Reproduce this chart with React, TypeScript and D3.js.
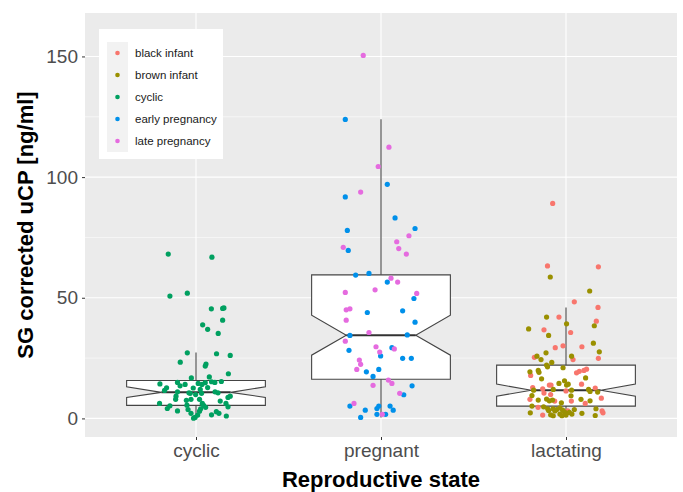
import React, { useEffect, useRef } from "react";
import * as d3 from "d3";

// categories on the x axis
const states = ["cyclic", "pregnant", "lactating"];
const yTicks = [0, 50, 100, 150];
const yMinor = [25, 75, 125];

// box stats: [lower, q1, median, q3, upper, notchLo, notchHi]
const boxStats: number[][] = [
  [0.1, 5.4, 10.8, 15.7, 27.3, 8.7, 13.1],
  [0.4, 16.2, 34.5, 59.5, 124, 26.2, 42.8],
  [1.0, 5.1, 11.7, 22.1, 46, 9.2, 14.2],
];

// points: [jitter (category units), value]
const cyclicPts: [number, number][] = [
  [-0.15, 68.1], [0.086, 66.8], [-0.141, 50.7], [-0.047, 51.9], [0.083, 45.4], [0.144, 45.6],
  [0.151, 45.8], [0.144, 40.7], [0.036, 38.8], [0.063, 36.9], [0.12, 35.2], [-0.047, 27.2],
  [0.111, 26.8], [0.185, 26.1], [-0.085, 23.3], [0.054, 22.5], [0.05, 21.7], [0.175, 18.5],
  [-0.025, 16.8], [0.072, 17.2], [0.084, 15.2], [0.102, 14.9], [0.137, 15.3], [-0.1, 14.9],
  [-0.195, 14.3], [-0.086, 13.5], [-0.059, 14.1], [0.012, 14.5], [0.032, 14.1], [0.05, 14.8],
  [-0.159, 12.7], [-0.17, 11.6], [-0.015, 12.6], [0.023, 12.0], [0.063, 12.8], [-0.1, 11.0],
  [-0.038, 10.6], [-0.031, 10.4], [0.103, 11.0], [0.119, 10.6], [-0.002, 9.9], [0.03, 10.4],
  [0.173, 8.7], [0.185, 9.2], [-0.11, 7.9], [-0.052, 7.5], [-0.027, 7.9], [0.019, 7.9],
  [0.131, 7.2], [-0.197, 6.2], [-0.141, 5.2], [-0.155, 4.1], [-0.049, 5.5], [0.034, 6.2],
  [0.041, 5.4], [0.162, 6.2], [0.173, 4.8], [-0.1, 3.1], [-0.043, 3.7], [-0.027, 2.1],
  [0.025, 4.0], [0.019, 3.0], [0.084, 1.5], [0.11, 2.8], [0.124, 2.1], [0.164, 1.0],
  [-0.005, 0.4], [-0.013, 0.1], [0.009, 1.4], [0.052, 4.6], [-0.108, 9.2],
];

const earlyPts: [number, number][] = [
  [-0.193, 123.9], [0.034, 97.0], [-0.193, 91.8], [0.076, 83.1], [0.184, 78.7], [-0.182, 77.9],
  [-0.177, 69.6], [-0.137, 59.4], [-0.065, 60.1], [0.034, 56.5], [0.178, 49.7], [-0.074, 43.9],
  [0.117, 44.6], [0.184, 39.9], [-0.168, 34.4], [0.142, 34.6], [-0.173, 28.2], [0.059, 29.3],
  [-0.002, 25.9], [0.117, 24.9], [0.164, 24.9], [-0.079, 19.3], [-0.012, 20.3], [-0.043, 17.4],
  [0.168, 13.5], [0.123, 9.8], [-0.168, 5.1], [-0.085, 3.4], [-0.022, 4.1], [-0.012, 5.1],
  [0.049, 5.1], [0.066, 3.4], [-0.11, 0.4], [-0.022, 1.7], [0.025, 1.7],
];

const latePts: [number, number][] = [
  [-0.096, 150.4], [0.043, 112.4], [-0.015, 104.4], [-0.11, 93.8], [0.151, 75.7], [0.085, 73.2],
  [-0.204, 70.9], [0.096, 70.4], [0.137, 68.1], [0.054, 58.1], [0.09, 56.5], [-0.193, 52.2],
  [-0.032, 53.3], [0.193, 51.8], [-0.188, 45.0], [-0.168, 45.4], [-0.188, 40.7], [-0.065, 35.6],
  [-0.193, 32.0], [-0.027, 29.7], [-0.007, 27.5], [0.072, 28.8], [-0.117, 24.2], [-0.11, 22.4],
  [-0.131, 20.3], [0.04, 15.9], [0.059, 14.5], [-0.043, 13.7], [0.101, 10.4], [-0.146, 6.2],
  [0.007, 1.7],
];

const blackPts: [number, number][] = [
  [-0.072, 89.1], [-0.1, 63.2], [0.175, 62.8], [0.045, 48.3], [0.173, 46.0], [-0.038, 42.0],
  [0.164, 40.3], [-0.119, 36.7], [0.025, 35.6], [-0.016, 30.1], [-0.058, 29.3], [0.086, 29.7],
  [-0.171, 25.3], [0.038, 24.4], [0.175, 24.9], [-0.191, 17.8], [0.057, 18.9], [0.072, 19.5],
  [0.111, 20.4], [0.097, 19.9], [-0.081, 13.8], [-0.09, 13.8], [0.084, 14.2], [-0.18, 12.8],
  [-0.126, 12.3], [-0.119, 10.5], [0, 11.4], [0.158, 12.6], [-0.083, 9.9], [0.191, 8.4],
  [-0.195, 7.9], [-0.061, 7.2], [0.104, 6.2], [0.029, 7.2], [-0.151, 4.6], [0.009, 3.1],
  [0.195, 3.1], [-0.126, 1.4], [0.2, 2.3],
];

const brownPts: [number, number][] = [
  [-0.085, 58.6], [0.128, 52.8], [-0.105, 42.0], [0.003, 39.2], [0.153, 38.4], [-0.202, 37.1],
  [-0.094, 34.4], [0.148, 31.2], [0.18, 27.6], [-0.108, 27.2], [-0.157, 25.8], [-0.135, 24.4],
  [0.03, 25.8], [-0.077, 23.2], [-0.105, 22.1], [-0.1, 21.4], [-0.016, 21.0], [-0.195, 19.3],
  [-0.15, 19.9], [-0.146, 19.1], [0.106, 16.8], [-0.132, 16.4], [-0.038, 14.5], [-0.008, 15.6],
  [0.003, 13.8], [0.012, 14.2], [-0.175, 11.7], [-0.069, 12.0], [0.03, 11.7], [0.122, 12.0],
  [0.13, 11.2], [0.171, 10.9], [0.027, 9.4], [-0.184, 9.5], [-0.15, 7.6], [-0.105, 8.0],
  [-0.09, 7.3], [-0.073, 7.6], [0.081, 7.9], [0.13, 7.3], [-0.025, 6.5], [-0.184, 5.1],
  [-0.121, 4.8], [-0.099, 4.0], [-0.094, 3.3], [-0.07, 4.0], [-0.06, 3.1], [-0.05, 3.7],
  [-0.033, 4.4], [-0.018, 3.4], [-0.007, 2.6], [0.018, 2.5], [0.032, 1.8], [0.045, 3.7],
  [0.086, 2.1], [0.162, 4.0], [0.158, 1.2], [-0.193, 2.3], [-0.083, 1.5], [-0.069, 1.1],
  [-0.033, 1.8], [-0.022, 1.1], [0, 1.4],
];

// legend groups
const groupNames = ["black infant", "brown infant", "cyclic", "early pregnancy", "late pregnancy"];
const groupColors = ["#F8766D", "#9A9000", "#00A060", "#0090EA", "#E56BDF"];
const groupState = ["lactating", "lactating", "cyclic", "pregnant", "pregnant"];
const groupPts = [blackPts, brownPts, cyclicPts, earlyPts, latePts];

const W = 683;
const H = 492;
const margin = { top: 13, right: 6, bottom: 55, left: 85 };
const font = "'Liberation Sans', Arial, sans-serif";

export default function App() {
  const ref = useRef<SVGSVGElement>(null);

  useEffect(() => {
    const svg = d3.select(ref.current);
    svg.selectAll("*").remove();

    const x = d3
      .scalePoint()
      .domain(states)
      .range([margin.left, W - margin.right])
      .padding(0.6);
    const step = x.step();

    const y = d3
      .scaleLinear()
      .domain([-7.7, 168])
      .range([H - margin.bottom, margin.top]);

    // panel
    svg
      .append("rect")
      .attr("x", margin.left)
      .attr("y", margin.top)
      .attr("width", W - margin.left - margin.right)
      .attr("height", H - margin.top - margin.bottom)
      .attr("fill", "#EBEBEB");

    const grid = svg.append("g");
    grid
      .selectAll(".minor")
      .data(yMinor)
      .join("line")
      .attr("x1", margin.left)
      .attr("x2", W - margin.right)
      .attr("y1", (d) => y(d))
      .attr("y2", (d) => y(d))
      .attr("stroke", "#fff")
      .attr("stroke-width", 0.55);
    grid
      .selectAll(".major")
      .data(yTicks)
      .join("line")
      .attr("x1", margin.left)
      .attr("x2", W - margin.right)
      .attr("y1", (d) => y(d))
      .attr("y2", (d) => y(d))
      .attr("stroke", "#fff")
      .attr("stroke-width", 1.1);
    grid
      .selectAll(".vmajor")
      .data(states)
      .join("line")
      .attr("x1", (d) => x(d)!)
      .attr("x2", (d) => x(d)!)
      .attr("y1", margin.top)
      .attr("y2", H - margin.bottom)
      .attr("stroke", "#fff")
      .attr("stroke-width", 1.1);

    // boxplots
    const bw = step * 0.75;
    const boxes = svg.append("g");
    states.forEach((s, i) => {
      const [lo, q1, med, q3, hi, nlo, nhi] = boxStats[i];
      const cx = x(s)!;
      const xl = cx - bw / 2;
      const xr = cx + bw / 2;
      const ni = bw / 4;
      boxes
        .append("line")
        .attr("x1", cx)
        .attr("x2", cx)
        .attr("y1", y(hi))
        .attr("y2", y(lo))
        .attr("stroke", "#555")
        .attr("stroke-width", 1.2);
      const pts: [number, number][] = [
        [xl, y(q3)],
        [xl, y(nhi)],
        [cx - ni, y(med)],
        [xl, y(nlo)],
        [xl, y(q1)],
        [xr, y(q1)],
        [xr, y(nlo)],
        [cx + ni, y(med)],
        [xr, y(nhi)],
        [xr, y(q3)],
      ];
      boxes
        .append("path")
        .attr("d", d3.line()(pts) + "Z")
        .attr("fill", "#fff")
        .attr("stroke", "#444")
        .attr("stroke-width", 1.1);
      boxes
        .append("line")
        .attr("x1", cx - ni)
        .attr("x2", cx + ni)
        .attr("y1", y(med))
        .attr("y2", y(med))
        .attr("stroke", "#333")
        .attr("stroke-width", 2);
    });

    // jittered points
    const dots = svg.append("g");
    groupNames.forEach((g, i) => {
      const cx = x(groupState[i])!;
      dots
        .append("g")
        .attr("fill", groupColors[i])
        .selectAll("circle")
        .data(groupPts[i])
        .join("circle")
        .attr("cx", (d) => cx + d[0] * step)
        .attr("cy", (d) => y(d[1]))
        .attr("r", 2.6);
    });

    // y axis
    const yAxis = svg
      .append("g")
      .attr("transform", `translate(${margin.left},0)`)
      .call(d3.axisLeft(y).tickValues(yTicks).tickSize(3).tickPadding(4));
    yAxis.select(".domain").remove();
    yAxis.selectAll("line").attr("stroke", "#333");
    yAxis
      .selectAll("text")
      .attr("fill", "#4D4D4D")
      .style("font-family", font)
      .style("font-size", "19px");

    // x axis
    const xAxis = svg
      .append("g")
      .attr("transform", `translate(0,${H - margin.bottom})`)
      .call(d3.axisBottom(x).tickSize(3).tickPadding(4));
    xAxis.select(".domain").remove();
    xAxis.selectAll("line").attr("stroke", "#333");
    xAxis
      .selectAll("text")
      .attr("fill", "#4D4D4D")
      .style("font-family", font)
      .style("font-size", "19px");

    // titles
    svg
      .append("text")
      .attr("x", (margin.left + W - margin.right) / 2)
      .attr("y", 487)
      .attr("text-anchor", "middle")
      .style("font-family", font)
      .style("font-size", "22px")
      .style("font-weight", "bold")
      .text("Reproductive state");
    svg
      .append("text")
      .attr("transform", `translate(33,${(margin.top + H - margin.bottom) / 2}) rotate(-90)`)
      .attr("text-anchor", "middle")
      .style("font-family", font)
      .style("font-size", "22px")
      .style("font-weight", "bold")
      .text("SG corrected uCP [ng/ml]");

    // legend
    const lg = svg.append("g").attr("transform", "translate(99,29)");
    lg.append("rect").attr("width", 124).attr("height", 130).attr("fill", "#fff");
    const rows = lg
      .selectAll(".row")
      .data(groupNames)
      .join("g")
      .attr("transform", (_, i) => `translate(8,${13 + i * 22})`);
    rows.append("rect").attr("width", 21).attr("height", 22).attr("fill", "#F2F2F2");
    rows
      .append("circle")
      .attr("cx", 10.5)
      .attr("cy", 11)
      .attr("r", 2.3)
      .attr("fill", (_, i) => groupColors[i]);
    rows
      .append("text")
      .attr("x", 28)
      .attr("y", 15)
      .attr("fill", "#1A1A1A")
      .style("font-family", font)
      .style("font-size", "11.5px")
      .text((d) => d);
  }, []);

  return (
    <svg
      ref={ref}
      width={W}
      height={H}
      style={{ position: "absolute", left: 0, top: 0, background: "#fff" }}
    />
  );
}
